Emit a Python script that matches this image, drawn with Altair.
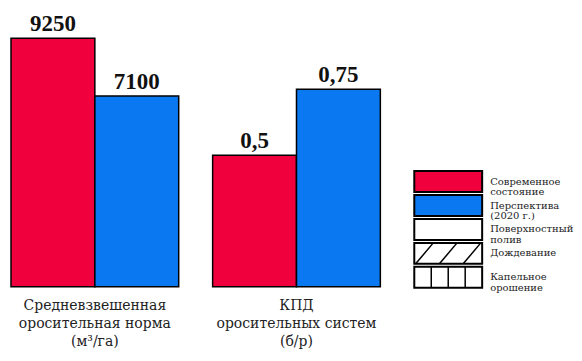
import altair as alt
import pandas as pd

series = ["Современное состояние", "Перспектива (2020 г.)"]
colors = ["#F0003C", "#0A78F0"]

norm_values = [9250, 7100]
norm_labels = ["9250", "7100"]
kpd_values = [0.5, 0.75]
kpd_labels = ["0,5", "0,75"]

group_titles = [
    ["Средневзвешенная", "оросительная норма", "(м³/га)"],
    ["КПД", "оросительных систем", "(б/р)"],
]

legend_items = [
    "Современное\nсостояние",
    "Перспектива\n(2020 г.)",
    "Поверхностный\nполив",
    "Дождевание",
    "Капельное\nорошение",
]
legend_fills = ["#F0003C", "#0A78F0", "white", "white", "white"]
legend_patterns = ["none", "none", "none", "hatch", "grid"]

H = 277
NUM_FONT = "Liberation Serif"
TXT_FONT = "DejaVu Serif"


def panel(values, labels, title_lines, ymax, width):
    df = pd.DataFrame({"series": series, "value": values, "label": labels})
    base = alt.Chart(df).encode(
        x=alt.X("series:N", sort=series, axis=None,
                scale=alt.Scale(paddingInner=0, paddingOuter=0)),
        y=alt.Y("value:Q", axis=None, scale=alt.Scale(domain=[0, ymax])),
    )
    bars = base.mark_bar(stroke="black", strokeWidth=1.5).encode(
        color=alt.Color("series:N", scale=alt.Scale(domain=series, range=colors), legend=None)
    )
    text = base.mark_text(dy=-7, baseline="alphabetic", font=NUM_FONT,
                          fontWeight="bold", fontSize=23, color="#111").encode(text="label:N")
    tdf = pd.DataFrame({"t": ["\n".join(title_lines)]})
    title = alt.Chart(tdf).mark_text(
        lineBreak="\n", baseline="top", align="center", fontSize=14,
        lineHeight=18, font=TXT_FONT, color="#222"
    ).encode(text="t:N", x=alt.value(width / 2), y=alt.value(H + 12))
    return alt.layer(bars, text, title).properties(width=width, height=H)


p1 = panel(norm_values, norm_labels, group_titles[0], 10290, 168)
p2 = panel(kpd_values, kpd_labels, group_titles[1], 1.05, 168)

# legend panel
leg = pd.DataFrame({"item": legend_items, "fill": legend_fills, "pattern": legend_patterns})
leg["row"] = range(len(leg))
leg["top"] = leg["row"]
leg["bottom"] = leg["row"] + 0.875
leg["x0"] = 0.0
leg["x1"] = 1.0
leg["mid"] = leg["row"] + 0.44

xs = alt.Scale(domain=[0, 1], range=[0, 68])
ys = alt.Scale(domain=[0, 5], range=[161, 281])

segs = []
for _, r in leg.iterrows():
    if r["pattern"] == "hatch":
        n = 3
        for k in range(n):
            xb = 0.02 + k * 0.35
            segs.append({"xa": xb, "xb": xb + 0.26, "ya": r["bottom"], "yb": r["top"]})
    elif r["pattern"] == "grid":
        n = 4
        for k in range(1, n):
            segs.append({"xa": k / n, "xb": k / n, "ya": r["bottom"], "yb": r["top"]})
segdf = pd.DataFrame(segs)

boxes = alt.Chart(leg).mark_rect(stroke="black", strokeWidth=2).encode(
    x=alt.X("x0:Q", scale=xs, axis=None), x2="x1",
    y=alt.Y("top:Q", scale=ys, axis=None), y2="bottom",
    fill=alt.Fill("fill:N", scale=None),
)
lines = alt.Chart(segdf).mark_rule(strokeWidth=1.5, color="black").encode(
    x=alt.X("xa:Q", scale=xs, axis=None), x2="xb",
    y=alt.Y("ya:Q", scale=ys, axis=None), y2="yb",
)
ltext = alt.Chart(leg).mark_text(
    align="left", baseline="middle", lineBreak="\n", fontSize=10,
    lineHeight=10.5, font=TXT_FONT, color="#222"
).encode(x=alt.value(76), y=alt.Y("mid:Q", scale=ys, axis=None), text="item:N")

p3 = alt.layer(boxes, lines, ltext).properties(width=150, height=H)

chart = alt.hconcat(p1, p2, p3, spacing=34, bounds="flush").properties(
    padding={"left": 2, "top": 2, "right": 0, "bottom": 0}
).configure_view(stroke=None)

chart.save("out.html", embed_options={"renderer": "svg", "actions": False})
